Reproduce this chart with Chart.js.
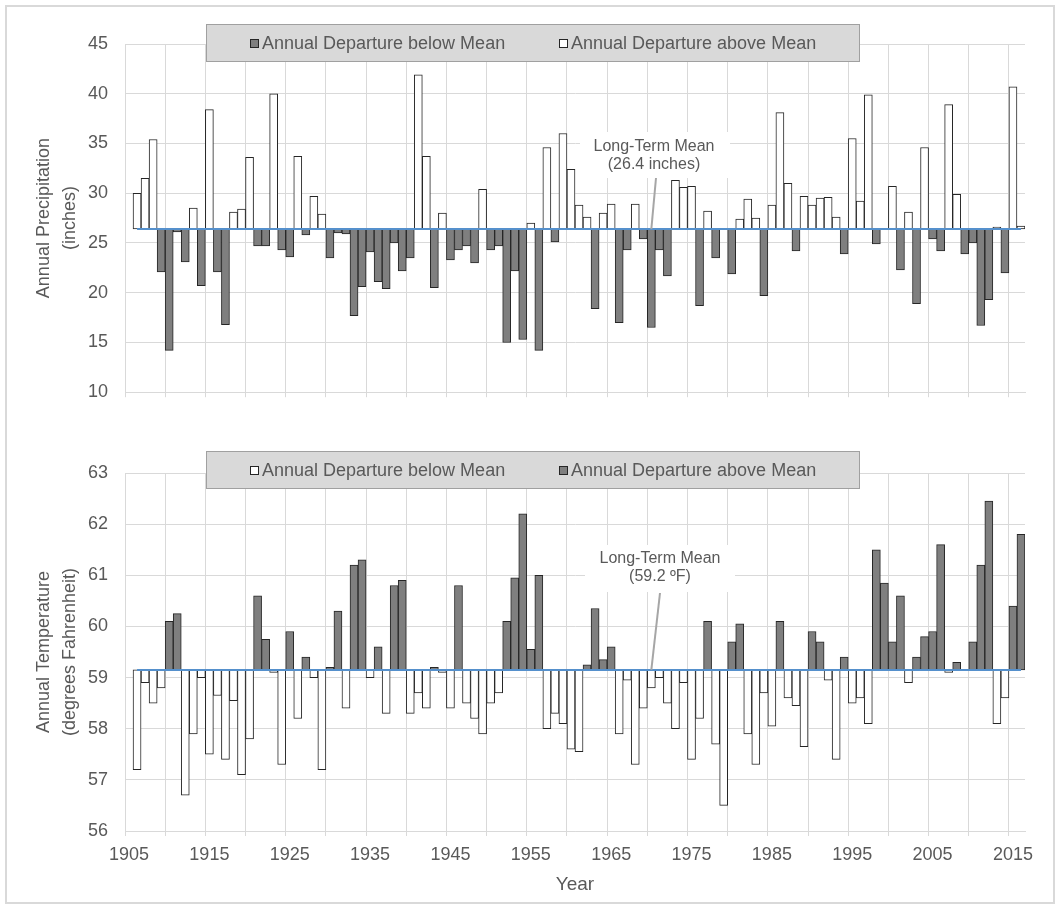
<!DOCTYPE html>
<html>
<head>
<meta charset="utf-8">
<title>Annual Precipitation and Temperature</title>
<script src="https://cdn.jsdelivr.net/npm/chart.js@4.4.1/dist/chart.umd.min.js"></script>
<style>
  body { margin: 0; background: #fff; }
  #wrap { position: relative; width: 1063px; height: 907px; }
  #frame { position: absolute; left: 5px; top: 5px; width: 1046px; height: 895px; border: 2px solid #d9d9d9; }
  canvas { position: absolute; left: 0; }
  #precip { top: 0; }
  #temp { top: 420px; }
</style>
</head>
<body>
<div id="wrap">
  <div id="frame"></div>
  <canvas id="precip" width="1063" height="420"></canvas>
  <canvas id="temp" width="1063" height="487"></canvas>
</div>
<script>
// category axis runs 1905-2016, the record starts in 1906
const years = [];
for (let yr = 1905; yr <= 2016; yr++) years.push(String(yr));
const decadeLabels = ['1905', '1915', '1925', '1935', '1945', '1955', '1965', '1975', '1985', '1995', '2005', '2015'];

// annual precipitation (inches), 1906-2016
const precipitation = [
  30.0, 31.5, 35.4, 22.1,
  14.2, 26.1, 23.1, 28.5, 20.7, 38.4, 22.1, 16.8, 28.1, 28.4,
  33.6, 24.7, 24.7, 40.0, 24.3, 23.6, 33.7, 25.8, 29.7, 27.9,
  23.5, 26.0, 25.9, 17.7, 20.6, 24.1, 21.1, 20.4, 25.0, 22.2,
  23.5, 41.9, 33.7, 20.5, 28.0, 23.3, 24.3, 24.7, 23.0, 30.4,
  24.3, 24.7, 15.0, 22.2, 15.3, 27.0, 14.2, 34.6, 25.1, 36.0,
  32.4, 28.8, 27.6, 18.4, 28.0, 28.9, 17.0, 24.3, 28.9, 25.4,
  16.5, 24.3, 21.7, 31.3, 30.6, 30.7, 18.7, 28.2, 23.5, 26.4,
  21.9, 27.4, 29.4, 27.5, 19.7, 28.8, 38.1, 31.0, 24.2, 29.7,
  28.8, 29.5, 29.6, 27.6, 23.9, 35.5, 29.2, 39.9, 24.9, 26.4,
  30.7, 22.3, 28.1, 18.9, 34.6, 25.4, 24.2, 38.9, 29.9, 23.9,
  25.0, 16.7, 19.3, 26.6, 22.0, 40.7, 26.7
];

// annual mean temperature (deg F), 1906-2016
const temperature = [
  57.2, 58.9, 58.5, 58.8,
  60.1, 60.25, 56.7, 57.9, 59.0, 57.5, 58.65, 57.4, 58.55, 57.1,
  57.8, 60.6, 59.75, 59.1, 57.3, 59.9, 58.2, 59.4, 59.0, 57.2,
  59.2, 60.3, 58.4, 61.2, 61.3, 59.0, 59.6, 58.3, 60.8, 60.9,
  58.3, 58.7, 58.4, 59.2, 59.1, 58.4, 60.8, 58.5, 58.2, 57.9,
  58.5, 58.7, 60.1, 60.95, 62.2, 59.55, 61.0, 58.0, 58.3, 58.1,
  57.6, 57.55, 59.25, 60.35, 59.35, 59.6, 57.9, 58.95, 57.3, 58.4,
  58.8, 59.0, 58.5, 58.0, 58.9, 57.4, 58.2, 60.1, 57.7, 56.5,
  59.7, 60.05, 57.9, 57.3, 58.7, 58.05, 60.1, 58.6, 58.45, 57.65,
  59.9, 59.7, 58.95, 57.4, 59.4, 58.5, 58.6, 58.1, 61.5, 60.85,
  59.7, 60.6, 58.9, 59.4, 59.8, 59.9, 61.6, 59.1, 59.3, 59.15,
  59.7, 61.2, 62.45, 58.1, 58.6, 60.4, 61.8
];

const precipMean = 26.4;
const tempMean = 59.15;

const GRID = '#d9d9d9';
const TEXT = '#595959';
const DARK_BAR = '#7f7f7f';
const EDGE = '#262626';
const FONT = "'Liberation Sans', Arial, sans-serif";

Chart.defaults.font.family = FONT;
Chart.defaults.color = TEXT;

// legend box and the "Long-Term Mean" callout
const panelDecor = {
  id: 'panelDecor',
  afterDatasetsDraw(chart, args, opts) {
    const { ctx, scales: { x, y } } = chart;
    const c = opts.callout;
    ctx.save();
    ctx.fillStyle = '#fff';
    ctx.fillRect(c.box[0], c.box[1], c.box[2], c.box[3]);
    ctx.strokeStyle = '#a6a6a6';
    ctx.lineWidth = 2;
    ctx.beginPath();
    ctx.moveTo(c.from[0], c.from[1]);
    ctx.lineTo(x.getPixelForValue(years.indexOf(c.at)), y.getPixelForValue(opts.mean));
    ctx.stroke();
    ctx.fillStyle = TEXT;
    ctx.font = '16px ' + FONT;
    ctx.textAlign = 'center';
    ctx.textBaseline = 'middle';
    c.lines.forEach((t, i) => ctx.fillText(t, c.textX, c.textY + i * 18));
    ctx.restore();
  },
  afterDraw(chart, args, opts) {
    const { ctx } = chart;
    const b = opts.legend;
    ctx.save();
    ctx.fillStyle = '#d9d9d9';
    ctx.fillRect(b.x, b.y, b.w, b.h);
    ctx.strokeStyle = '#a0a0a0';
    ctx.lineWidth = 1;
    ctx.strokeRect(b.x + 0.5, b.y + 0.5, b.w - 1, b.h - 1);
    const cy = b.y + b.h / 2;
    ctx.font = '18px ' + FONT;
    ctx.textBaseline = 'middle';
    b.items.forEach(it => {
      ctx.fillStyle = it.fill;
      ctx.fillRect(it.x, cy - 4, 9, 9);
      ctx.strokeStyle = EDGE;
      ctx.strokeRect(it.x + 0.5, cy - 3.5, 8, 8);
      ctx.fillStyle = TEXT;
      ctx.fillText(it.text, it.x + 12, cy + 1);
    });
    ctx.restore();
  }
};

function panelConfig(values, mean, p) {
  const below = years.map((yr, i) => (i > 0 && values[i - 1] < mean) ? [values[i - 1], mean] : null);
  const above = years.map((yr, i) => (i > 0 && values[i - 1] > mean) ? [mean, values[i - 1]] : null);
  const meanLine = years.map((yr, i) => i > 0 ? mean : null);
  const barBase = { grouped: false, categoryPercentage: 1, barPercentage: 1, borderColor: EDGE, borderWidth: 1, borderSkipped: false, order: 1 };
  return {
    type: 'bar',
    data: {
      labels: years,
      datasets: [
        Object.assign({ label: 'Annual Departure below Mean', data: below, backgroundColor: p.belowFill }, barBase),
        Object.assign({ label: 'Annual Departure above Mean', data: above, backgroundColor: p.aboveFill }, barBase),
        { type: 'line', label: 'Long-Term Mean', data: meanLine, borderColor: '#5590cc', borderWidth: 2, pointRadius: 0, order: 0 }
      ]
    },
    options: {
      responsive: false,
      animation: false,
      layout: { padding: { top: p.top, left: 0, right: 38, bottom: 0 } },
      plugins: {
        legend: { display: false },
        tooltip: { enabled: false },
        panelDecor: { mean, legend: p.legend, callout: p.callout }
      },
      scales: {
        x: {
          grid: {
            offset: true,
            color: ctx => ctx.index % 5 === 0 ? GRID : 'rgba(0,0,0,0)',
            tickLength: 5
          },
          border: { color: GRID },
          ticks: {
            display: p.showYears,
            autoSkip: false,
            maxRotation: 0,
            padding: 8,
            font: { size: 18 },
            callback: function (v) { const l = this.getLabelForValue(v); return decadeLabels.includes(l) ? l : ''; }
          },
          title: { display: p.showYears, text: 'Year', font: { size: 19 }, padding: { top: 0, bottom: 11 } },
          afterFit: s => { s.height = p.xHeight; }
        },
        y: {
          min: p.min,
          max: p.max,
          ticks: { stepSize: p.step, padding: 17, font: { size: 18 } },
          grid: { color: GRID, drawTicks: false },
          border: { color: GRID },
          title: { display: true, text: p.title, font: { size: 18, lineHeight: 1.45 }, padding: { top: 31, bottom: 0 } },
          afterFit: s => { s.width = 125; }
        }
      }
    },
    plugins: [panelDecor]
  };
}

new Chart(document.getElementById('precip'), panelConfig(precipitation, precipMean, {
  top: 44, xHeight: 18, showYears: false,
  min: 10, max: 45, step: 5,
  title: ['Annual Precipitation', '(inches)'],
  belowFill: DARK_BAR, aboveFill: '#ffffff',
  legend: { x: 206, y: 24, w: 654, h: 38, items: [
    { fill: DARK_BAR, x: 250, text: 'Annual Departure below Mean' },
    { fill: '#ffffff', x: 559, text: 'Annual Departure above Mean' }
  ] },
  callout: { box: [580, 132, 150, 46], textX: 654, textY: 147, lines: ['Long-Term Mean', '(26.4 inches)'], from: [656, 178], at: '1970' }
}));

new Chart(document.getElementById('temp'), panelConfig(temperature, tempMean, {
  top: 53, xHeight: 76, showYears: true,
  min: 56, max: 63, step: 1,
  title: ['Annual Temperature', '(degrees Fahrenheit)'],
  belowFill: '#ffffff', aboveFill: DARK_BAR,
  legend: { x: 206, y: 31, w: 654, h: 38, items: [
    { fill: '#ffffff', x: 250, text: 'Annual Departure below Mean' },
    { fill: DARK_BAR, x: 559, text: 'Annual Departure above Mean' }
  ] },
  callout: { box: [585, 125, 150, 47], textX: 660, textY: 139, lines: ['Long-Term Mean', '(59.2 ºF)'], from: [660, 173], at: '1970' }
}));
</script>
</body>
</html>
